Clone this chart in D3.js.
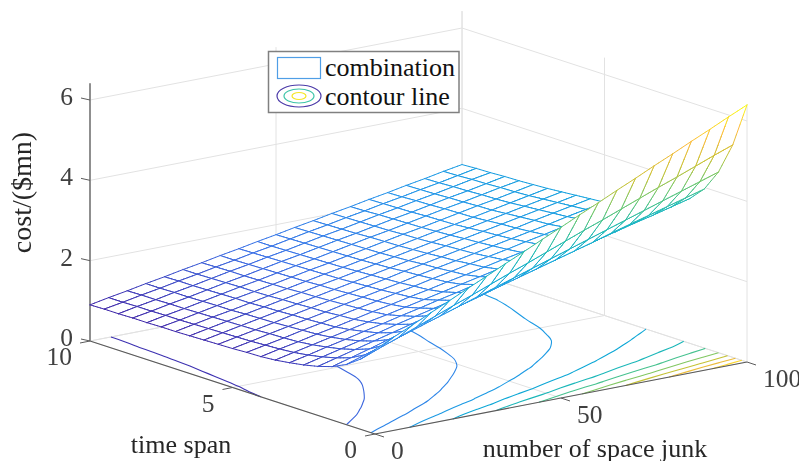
<!DOCTYPE html>
<html>
<head>
<meta charset="utf-8">
<script src="https://cdn.jsdelivr.net/npm/d3@7"></script>
<style>
  html, body { margin: 0; padding: 0; background: #fff; }
  svg { display: block; filter: blur(0.4px); }
  text { font-family: "Liberation Serif", serif; }
</style>
</head>
<body>
<svg id="chart" width="799" height="461"></svg>
<script>
// Values
const junkValues = d3.range(0, 101, 5);            // x grid
const spanValues = d3.range(0, 10.5, 0.5);         // t grid
const zTicks = [0, 2, 4, 6];
const spanTicks = [0, 5, 10];
const junkTicks = [0, 50, 100];
const contourLevels = [1, 1.5, 2, 2.5, 3, 3.5, 4, 4.5, 5, 5.5, 6];
const legendLabels = ["combination", "contour line"];

// cost, one row per time span value (0 .. 10), one column per junk value (0 .. 100)
const costRows = [
  [2.10,2.32,2.53,2.75,2.96,3.18,3.39,3.61,3.82,4.04,4.25,4.47,4.68,4.90,5.11,5.33,5.54,5.76,5.97,6.19,6.40],
  [1.75,1.93,2.10,2.28,2.46,2.64,2.81,2.99,3.17,3.34,3.52,3.70,3.88,4.05,4.23,4.41,4.59,4.76,4.94,5.12,5.29],
  [1.50,1.65,1.80,1.95,2.10,2.25,2.40,2.55,2.70,2.85,3.00,3.15,3.30,3.45,3.60,3.75,3.90,4.05,4.20,4.35,4.50],
  [1.33,1.46,1.59,1.73,1.86,1.99,2.12,2.25,2.38,2.52,2.65,2.78,2.91,3.04,3.17,3.31,3.44,3.57,3.70,3.83,3.96],
  [1.22,1.34,1.46,1.58,1.70,1.82,1.94,2.06,2.18,2.30,2.42,2.54,2.66,2.78,2.90,3.02,3.14,3.26,3.37,3.49,3.61],
  [1.14,1.25,1.36,1.47,1.58,1.70,1.81,1.92,2.03,2.14,2.25,2.36,2.47,2.58,2.69,2.81,2.92,3.03,3.14,3.25,3.36],
  [1.08,1.18,1.29,1.39,1.50,1.60,1.71,1.81,1.92,2.02,2.13,2.23,2.33,2.44,2.54,2.65,2.75,2.86,2.96,3.07,3.17],
  [1.03,1.13,1.23,1.33,1.43,1.53,1.62,1.72,1.82,1.92,2.02,2.12,2.22,2.32,2.42,2.52,2.62,2.71,2.81,2.91,3.01],
  [1.00,1.10,1.19,1.29,1.38,1.48,1.58,1.67,1.77,1.86,1.96,2.05,2.15,2.25,2.34,2.44,2.53,2.63,2.73,2.82,2.92],
  [0.99,1.08,1.17,1.27,1.36,1.46,1.55,1.64,1.74,1.83,1.93,2.02,2.12,2.21,2.30,2.40,2.49,2.59,2.68,2.77,2.87],
  [0.97,1.06,1.16,1.25,1.34,1.43,1.53,1.62,1.71,1.80,1.90,1.99,2.08,2.17,2.27,2.36,2.45,2.54,2.64,2.73,2.82],
  [0.96,1.05,1.14,1.23,1.33,1.42,1.51,1.60,1.69,1.78,1.88,1.97,2.06,2.15,2.24,2.33,2.42,2.52,2.61,2.70,2.79],
  [0.95,1.04,1.13,1.22,1.31,1.40,1.49,1.58,1.67,1.76,1.85,1.94,2.03,2.13,2.22,2.31,2.40,2.49,2.58,2.67,2.76],
  [0.94,1.03,1.12,1.21,1.30,1.39,1.48,1.57,1.65,1.74,1.83,1.92,2.01,2.10,2.19,2.28,2.37,2.46,2.55,2.64,2.73],
  [0.93,1.02,1.11,1.19,1.28,1.37,1.46,1.55,1.64,1.72,1.81,1.90,1.99,2.08,2.17,2.25,2.34,2.43,2.52,2.61,2.70],
  [0.93,1.01,1.10,1.19,1.28,1.36,1.45,1.54,1.63,1.71,1.80,1.89,1.98,2.07,2.15,2.24,2.33,2.42,2.50,2.59,2.68],
  [0.92,1.01,1.09,1.18,1.27,1.36,1.44,1.53,1.62,1.70,1.79,1.88,1.97,2.05,2.14,2.23,2.32,2.40,2.49,2.58,2.66],
  [0.92,1.00,1.09,1.17,1.26,1.35,1.43,1.52,1.61,1.69,1.78,1.87,1.95,2.04,2.13,2.21,2.30,2.39,2.47,2.56,2.65],
  [0.91,1.00,1.08,1.17,1.25,1.34,1.43,1.51,1.60,1.68,1.77,1.86,1.94,2.03,2.12,2.20,2.29,2.37,2.46,2.55,2.63],
  [0.91,0.99,1.08,1.16,1.25,1.33,1.42,1.50,1.59,1.67,1.76,1.85,1.93,2.02,2.10,2.19,2.27,2.36,2.44,2.53,2.62],
  [0.90,0.99,1.07,1.16,1.24,1.33,1.41,1.50,1.58,1.67,1.75,1.84,1.92,2.01,2.09,2.18,2.26,2.35,2.43,2.52,2.60]
];

// parula colormap
const parulaStops = ["#3e26a8", "#3a6fe6", "#2594ea", "#0ba6d8", "#1fbcb0", "#6cc870", "#c8c233", "#fcba3d", "#f9fb15"];
const color = d3.scaleLinear()
  .domain(parulaStops.map((c, i) => 0.9 + 5.5 * i / (parulaStops.length - 1)))
  .range(parulaStops)
  .clamp(true);

// Oblique projection of the 3D box onto the page
const originX = 375, originY = 434;
const junkPx = d3.scaleLinear().domain([0, 100]).range([0, 372]);
const junkPy = d3.scaleLinear().domain([0, 100]).range([0, -72]);
const spanPx = d3.scaleLinear().domain([0, 10]).range([0, -285]);
const spanPy = d3.scaleLinear().domain([0, 10]).range([0, -93]);
const costPy = d3.scaleLinear().domain([0, 6]).range([0, -241]);
const zTop = 6.42;

function project(x, t, z) {
  return [originX + junkPx(x) + spanPx(t), originY + junkPy(x) + spanPy(t) + costPy(z)];
}

const svg = d3.select("#chart");

function seg(g, a, b, stroke, width) {
  g.append("line")
    .attr("x1", a[0]).attr("y1", a[1])
    .attr("x2", b[0]).attr("y2", b[1])
    .attr("stroke", stroke)
    .attr("stroke-width", width);
}

// Grid on the floor and the two back walls
const grid = svg.append("g");
const gridColor = "#e2e2e2";
zTicks.forEach(z => {
  seg(grid, project(0, 10, z), project(100, 10, z), gridColor, 1);
  seg(grid, project(100, 10, z), project(100, 0, z), gridColor, 1);
});
junkTicks.forEach(x => {
  seg(grid, project(x, 0, 0), project(x, 10, 0), gridColor, 1);
  seg(grid, project(x, 10, 0), project(x, 10, zTop), gridColor, 1);
});
spanTicks.forEach(t => {
  seg(grid, project(0, t, 0), project(100, t, 0), gridColor, 1);
  seg(grid, project(100, t, 0), project(100, t, zTop), gridColor, 1);
});

// Contours on the floor
const nx = junkValues.length, ny = spanValues.length;
const contourData = d3.contours()
  .size([nx, ny])
  .thresholds(contourLevels)
  .smooth(true)(costRows.flat());

const contourLine = d3.line().curve(d3.curveBasis);
const contourGroup = svg.append("g").attr("fill", "none").attr("stroke-width", 1.1);
contourData.forEach(level => {
  level.coordinates.forEach(poly => poly.forEach(ring => {
    // keep only the stretches inside the data, the rest is the ring closing along the border
    let run = [];
    const flush = () => {
      if (run.length > 1) {
        contourGroup.append("path")
          .attr("stroke", color(level.value))
          .attr("d", contourLine(run));
      }
      run = [];
    };
    ring.forEach(p => {
      const inside = p[0] >= 0.5 && p[0] <= nx - 0.5 && p[1] >= 0.5 && p[1] <= ny - 0.5;
      if (inside) {
        run.push(project((p[0] - 0.5) * 5, (p[1] - 0.5) * 0.5, 0));
      } else {
        flush();
      }
    });
    flush();
  }));
});

// Axis lines and ticks
const axes = svg.append("g");
const axisColor = "#5a5a5a";
const tickFont = 25.5;
seg(axes, project(0, 10, 0), project(0, 0, 0), axisColor, 1.2);
seg(axes, project(0, 0, 0), project(100, 0, 0), axisColor, 1.2);
seg(axes, project(0, 10, 0), project(0, 10, zTop), "#777", 1.6);

zTicks.forEach(z => {
  const p = project(0, 10, z);
  seg(axes, p, [p[0] - 9, p[1] - 2], axisColor, 1);
  axes.append("text").attr("x", p[0] - 17).attr("y", p[1] + 5)
    .attr("text-anchor", "end").attr("font-size", tickFont).attr("fill", "#404040").text(z);
});
spanTicks.forEach(t => {
  const p = project(0, t, 0);
  seg(axes, p, [p[0] - 10, p[1] + 2], axisColor, 1);
  axes.append("text").attr("x", p[0] - 18).attr("y", p[1] + 24)
    .attr("text-anchor", "end").attr("font-size", tickFont).attr("fill", "#404040").text(t);
});
junkTicks.forEach(x => {
  const p = project(x, 0, 0);
  seg(axes, p, [p[0] + 9, p[1] + 3], axisColor, 1);
  axes.append("text").attr("x", p[0] + 16).attr("y", p[1] + 25)
    .attr("text-anchor", "start").attr("font-size", tickFont).attr("fill", "#404040").text(x);
});

// Mesh, painted from the far corner to the near one so white cells hide what is behind
const mesh = svg.append("g").attr("stroke-linecap", "round");

function meshEdge(i0, j0, i1, j1) {
  const z0 = costRows[j0][i0], z1 = costRows[j1][i1];
  const pieces = 4;
  for (let k = 0; k < pieces; k++) {
    const a = k / pieces, b = (k + 1) / pieces;
    const p = f => project(
      junkValues[i0] + (junkValues[i1] - junkValues[i0]) * f,
      spanValues[j0] + (spanValues[j1] - spanValues[j0]) * f,
      z0 + (z1 - z0) * f);
    seg(mesh, p(a), p(b), color(z0 + (z1 - z0) * (a + b) / 2), 1);
  }
}

for (let j = ny - 2; j >= 0; j--) {
  for (let i = nx - 2; i >= 0; i--) {
    const corners = [[i, j], [i + 1, j], [i + 1, j + 1], [i, j + 1]]
      .map(c => project(junkValues[c[0]], spanValues[c[1]], costRows[c[1]][c[0]]));
    mesh.append("polygon").attr("points", corners.join(" ")).attr("fill", "#fff");
    meshEdge(i, j + 1, i + 1, j + 1);
    meshEdge(i + 1, j, i + 1, j + 1);
    meshEdge(i, j, i, j + 1);
    meshEdge(i, j, i + 1, j);
  }
}

// Axis labels
svg.append("text").attr("x", 181).attr("y", 453).attr("text-anchor", "middle")
  .attr("font-size", 26).attr("fill", "#262626").text("time span");
svg.append("text").attr("x", 595).attr("y", 457).attr("text-anchor", "middle")
  .attr("font-size", 26).attr("fill", "#262626").text("number of space junk");
svg.append("text").attr("transform", "translate(31,192.5) rotate(-90)").attr("text-anchor", "middle")
  .attr("font-size", 28).attr("fill", "#262626").text("cost/($mn)");

// Legend
const legend = svg.append("g");
legend.append("rect").attr("x", 268.5).attr("y", 51.5).attr("width", 190.5).attr("height", 61)
  .attr("fill", "#fff").attr("stroke", "#808080").attr("stroke-width", 1.5);
legend.append("rect").attr("x", 277.5).attr("y", 57.5).attr("width", 43).attr("height", 21)
  .attr("fill", "#fff").attr("stroke", "#4f9ee6").attr("stroke-width", 1.2);
[[22, 11, "#4b3aa8"], [15, 7, "#3cc4a8"], [7, 3.5, "#f5e625"]].forEach(e => {
  legend.append("ellipse").attr("cx", 299).attr("cy", 96).attr("rx", e[0]).attr("ry", e[1])
    .attr("fill", "none").attr("stroke", e[2]).attr("stroke-width", 1.2);
});
legendLabels.forEach((d, i) => {
  legend.append("text").attr("x", 325).attr("y", 76 + i * 29)
    .attr("font-size", 26).attr("fill", "#111").text(d);
});
</script>
</body>
</html>
